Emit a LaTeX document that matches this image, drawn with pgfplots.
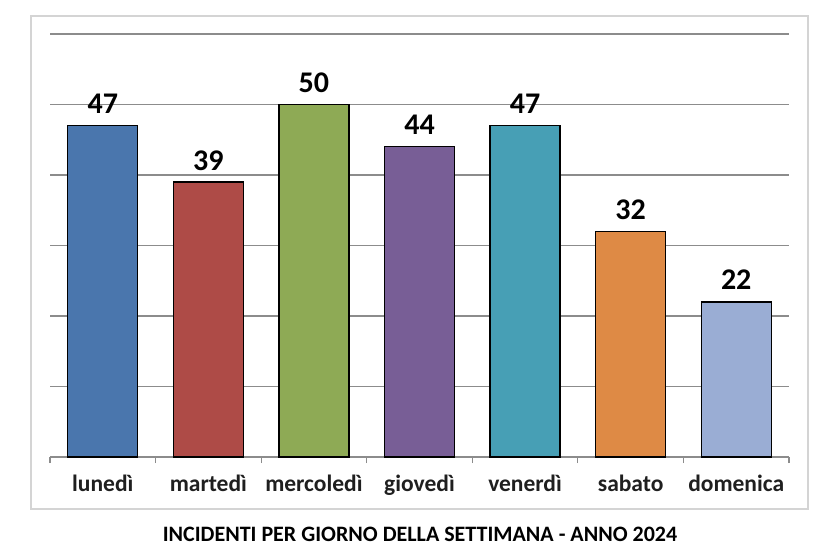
\documentclass[border=0pt]{standalone}
\usepackage{pgfplots}
\pgfplotsset{compat=1.18}
\usepackage{fontspec}
\setmainfont{Carlito}
\definecolor{cA}{HTML}{4A76AD}
\definecolor{cB}{HTML}{AE4B47}
\definecolor{cC}{HTML}{8EAA55}
\definecolor{cD}{HTML}{785E96}
\definecolor{cE}{HTML}{479FB5}
\definecolor{cF}{HTML}{DE8A45}
\definecolor{cG}{HTML}{9AADD4}
\definecolor{gridc}{HTML}{8C8C8C}
\definecolor{framec}{HTML}{D4D4D4}
\begin{document}
\begin{tikzpicture}[x=1pt,y=1pt]
\useasboundingbox (0,0) rectangle (837,557);
\fill[white] (0,0) rectangle (837,557);
\draw[framec, line width=1.5pt] (31,48) rectangle (808,541);
\begin{axis}[
  at={(50pt,100pt)}, anchor=south west,
  scale only axis, width=739pt, height=423pt,
  xmin=-0.5, xmax=6.5, ymin=0, ymax=60,
  axis line style={draw=none},
  ytick={0,10,...,60}, yticklabels={},
  ymajorgrids, grid style={gridc, line width=1.2pt},
  y tick style={draw=none},
  xtick={0,...,6},
  xtick pos=lower,
  xticklabels={luned\`i, marted\`i, mercoled\`i, gioved\`i, venerd\`i, sabato, domenica},
  x tick style={draw=none},
  minor xtick={-0.5,0.5,...,6.5},
  minor x tick style={draw=gridc, line width=1.2pt},
  minor tick length=6pt,
  tick align=outside,
  xticklabel style={font=\fontsize{23.5}{25}\selectfont\bfseries, text=black!88, anchor=base, yshift=-30pt},
  /pgf/number format/assume math mode=true,
  clip=false,
]
\addplot[ybar, bar width=70pt, draw=black, line width=1.3pt, fill=cA,
  nodes near coords, nodes near coords style={font=\fontsize{30}{32}\selectfont\bfseries, anchor=base, yshift=12pt}]
  coordinates {(0,47)};
\addplot[ybar, bar width=70pt, draw=black, line width=1.3pt, fill=cB,
  nodes near coords, nodes near coords style={font=\fontsize{30}{32}\selectfont\bfseries, anchor=base, yshift=12pt}]
  coordinates {(1,39)};
\addplot[ybar, bar width=70pt, draw=black, line width=1.3pt, fill=cC,
  nodes near coords, nodes near coords style={font=\fontsize{30}{32}\selectfont\bfseries, anchor=base, yshift=12pt}]
  coordinates {(2,50)};
\addplot[ybar, bar width=70pt, draw=black, line width=1.3pt, fill=cD,
  nodes near coords, nodes near coords style={font=\fontsize{30}{32}\selectfont\bfseries, anchor=base, yshift=12pt}]
  coordinates {(3,44)};
\addplot[ybar, bar width=70pt, draw=black, line width=1.3pt, fill=cE,
  nodes near coords, nodes near coords style={font=\fontsize{30}{32}\selectfont\bfseries, anchor=base, yshift=12pt}]
  coordinates {(4,47)};
\addplot[ybar, bar width=70pt, draw=black, line width=1.3pt, fill=cF,
  nodes near coords, nodes near coords style={font=\fontsize{30}{32}\selectfont\bfseries, anchor=base, yshift=12pt}]
  coordinates {(5,32)};
\addplot[ybar, bar width=70pt, draw=black, line width=1.3pt, fill=cG,
  nodes near coords, nodes near coords style={font=\fontsize{30}{32}\selectfont\bfseries, anchor=base, yshift=12pt}]
  coordinates {(6,22)};
\end{axis}
\node[anchor=base, font=\fontsize{22}{24}\selectfont\bfseries] at (420,16) {INCIDENTI PER GIORNO DELLA SETTIMANA - ANNO 2024};
\end{tikzpicture}
\end{document}
